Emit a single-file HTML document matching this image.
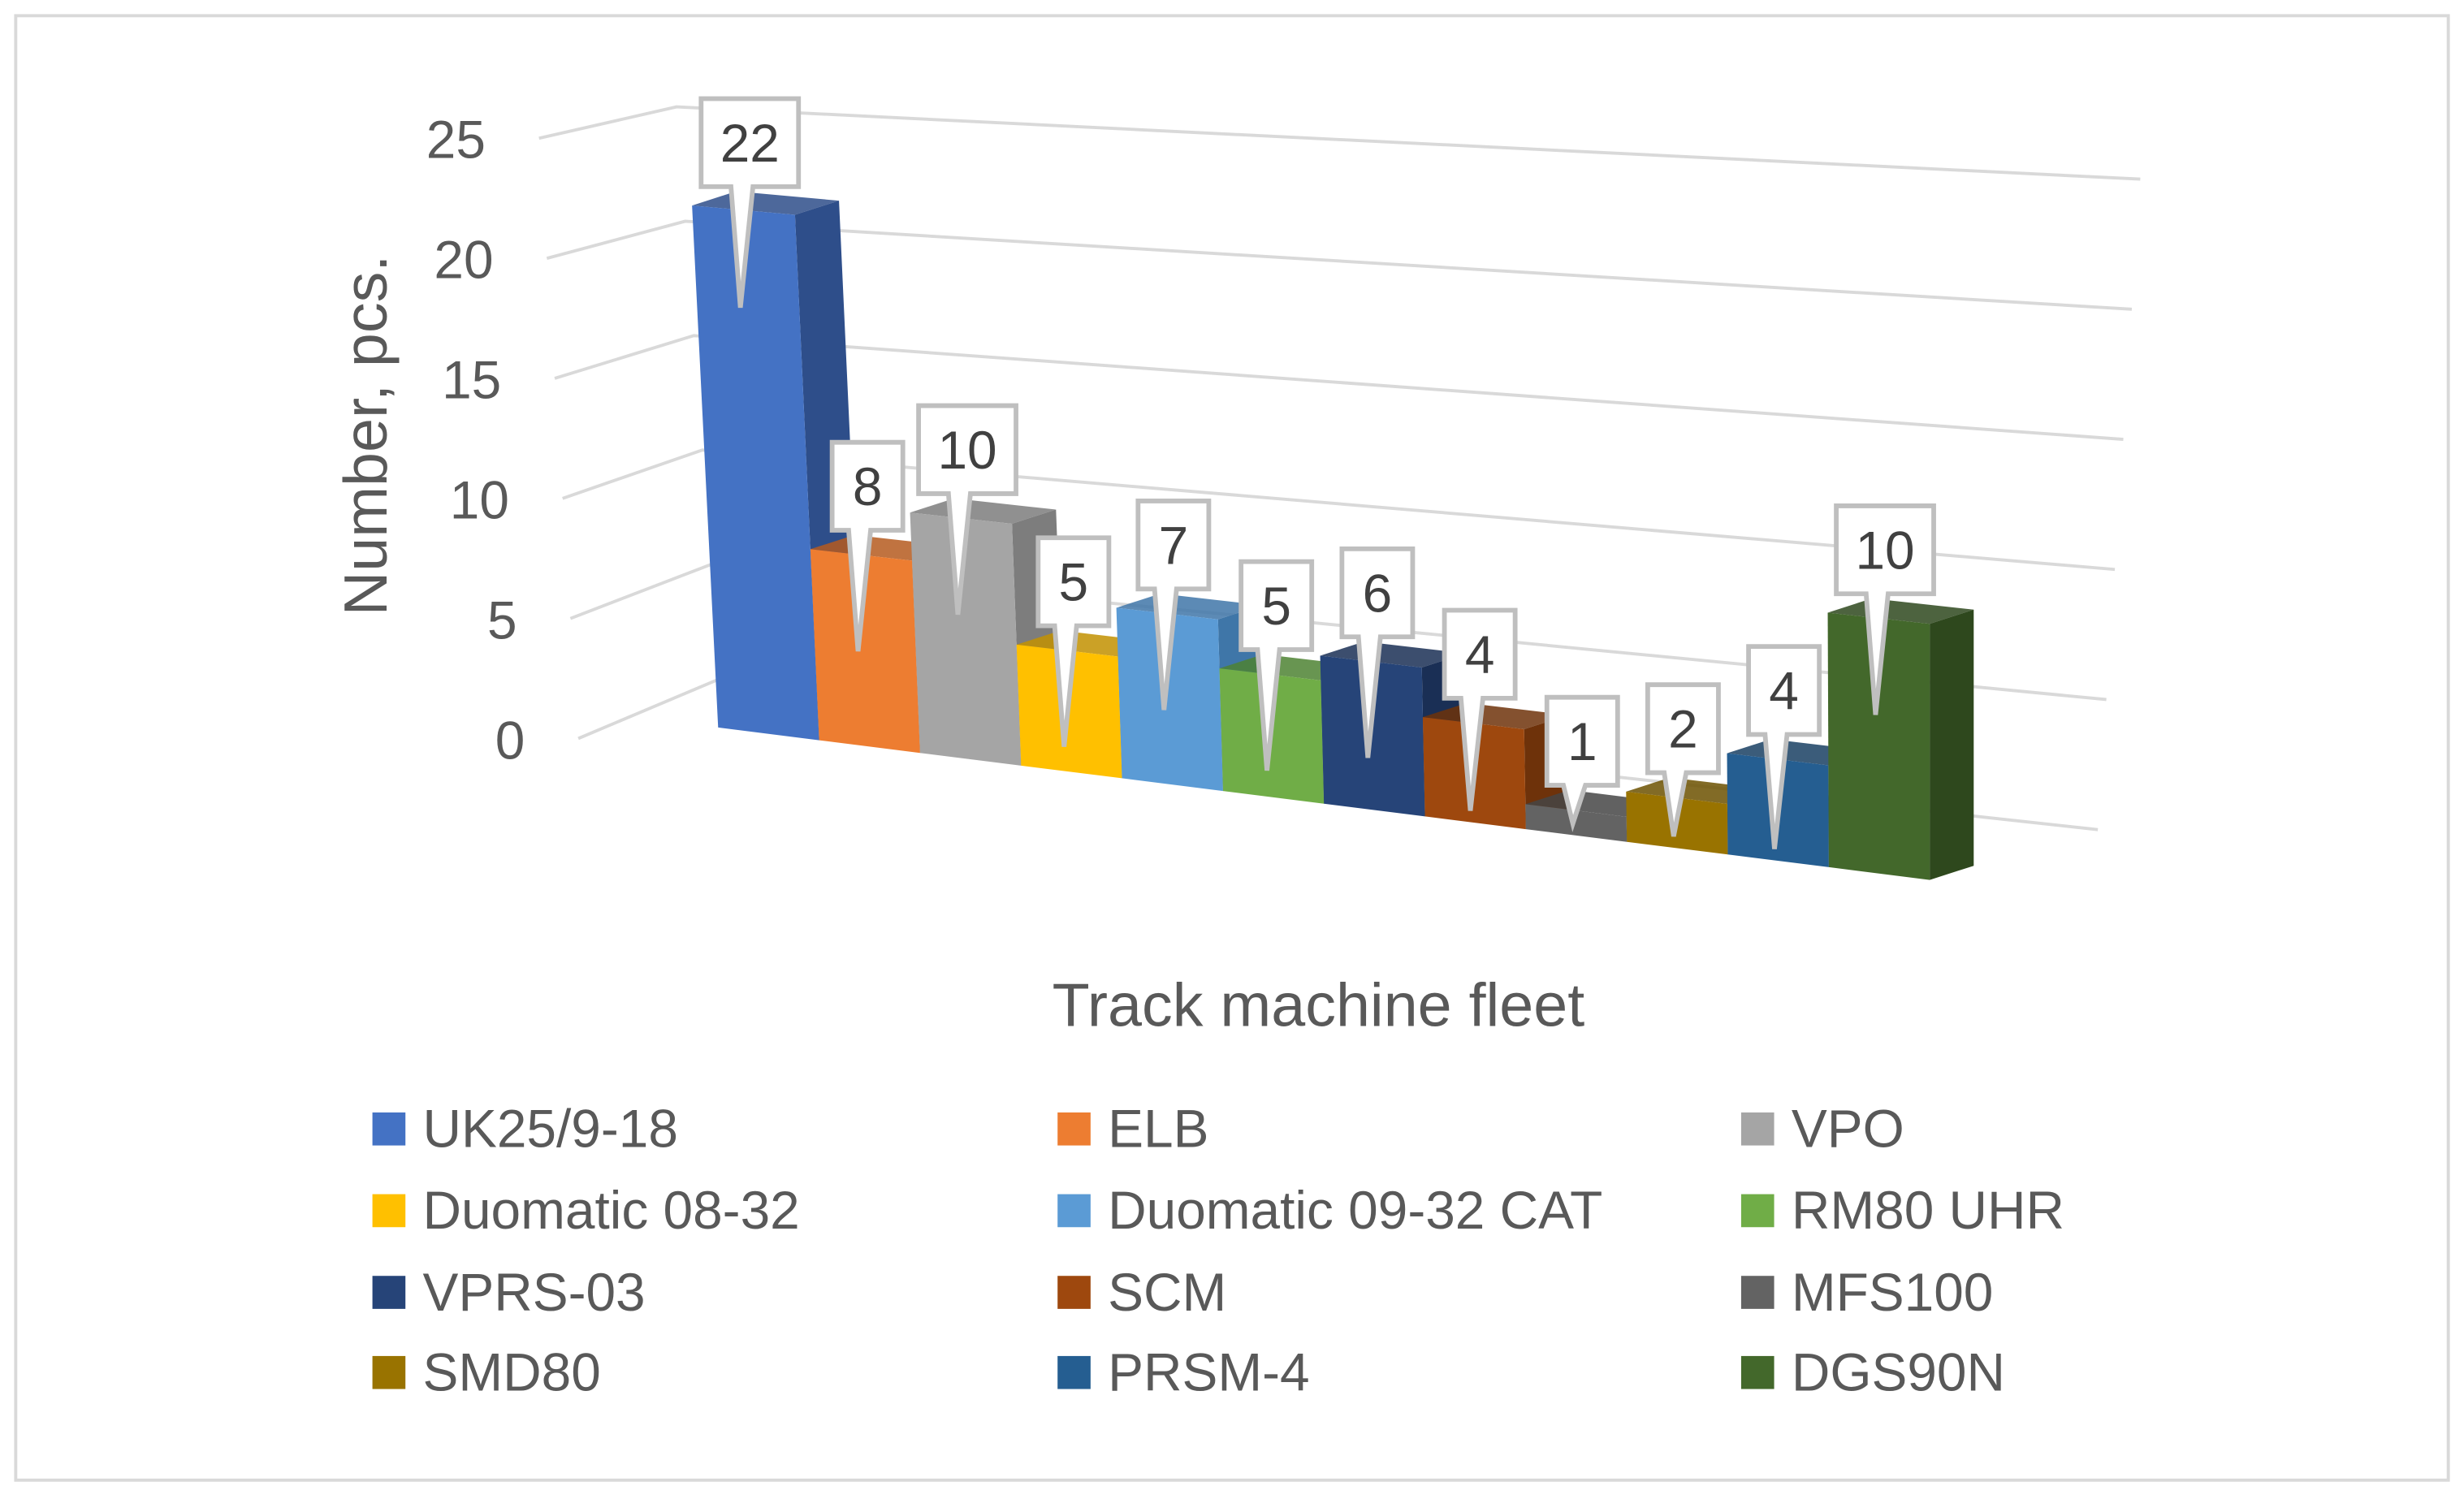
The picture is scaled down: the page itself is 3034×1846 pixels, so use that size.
<!DOCTYPE html>
<html><head><meta charset="utf-8"><style>
html,body{margin:0;padding:0;background:#fff;}
svg{display:block;font-family:"Liberation Sans",sans-serif;}
</style></head><body>
<svg id="chart" width="3034" height="1846" viewBox="0 0 1568 954" preserveAspectRatio="none" xmlns="http://www.w3.org/2000/svg">
<rect x="10" y="10" width="1548" height="932" fill="#fff" stroke="#d9d9d9" stroke-width="2"/>
<g id="grid"></g>
<g id="ticks"></g>
<g id="bars"></g>
<g id="labels"></g>
<text transform="translate(246,277) rotate(-90)" text-anchor="middle" font-size="39" fill="#595959">Number, pcs.</text>
<text x="839" y="653" text-anchor="middle" font-size="39" fill="#595959">Track machine fleet</text>
<g id="legend"></g>
</svg>
<script>
const categories = ["UK25/9-18","ELB","VPO","Duomatic 08-32","Duomatic 09-32 CAT","RM80 UHR","VPRS-03","SCM","MFS100","SMD80","PRSM-4","DGS90N"];
const values = [22,8,10,5,7,5,6,4,1,2,4,10];
const tickValues = [0,5,10,15,20,25];
const colors = ["#4472C4","#ED7D31","#A5A5A5","#FFC000","#5B9BD5","#70AD47","#264478","#9E480E","#636363","#997300","#255E91","#43682B"];
const sideColors = ["#2E4E8A","#B55A1E","#7D7D7D","#C29100","#3F76A8","#4E8232","#1A2F55","#6E320A","#454545","#6C5100","#193F63","#2E481D"];

const NS="http://www.w3.org/2000/svg";
function mk(tag, attrs, parent){const e=document.createElementNS(NS,tag);for(const k in attrs)e.setAttribute(k,attrs[k]);parent.appendChild(e);return e;}
const pts=a=>a.map(p=>p[0].toFixed(1)+","+p[1].toFixed(1)).join(" ");

const X0=457, X1=1228, Y0=463, Y1=560, N=categories.length, BW=(X1-X0)/N;
function baseY(x){return Y0+(x-X0)*(Y1-Y0)/(X1-X0);}
function unit(x){return 15.1+(x-X0)/(X1-X0)*1.2;}
function lean(x){return -0.05*(1-(x-X0)/(X1-X0));}
function topPt(x,v){const h=v*unit(x);return [x+lean(x)*h, baseY(x)-h];}
const D=[28,-9];

const grid=document.getElementById('grid'), ticks=document.getElementById('ticks');
tickValues.forEach((v,i)=>{
  const L=[368-v*1.0,470-v*15.28], C=[458-v*1.1,432-v*14.56], R=[1335+v*1.08,528-v*16.56];
  const g=mk('polyline',{points:pts([L,C,R]),fill:'none',stroke:'#d9d9d9','stroke-width':2},grid);
  
  
  const t=mk('text',{x:334-i*5,y:483-v*15.3,'text-anchor':'end','font-size':34,fill:'#595959'},ticks);
  t.textContent=v;
  
  
});

const bars=document.getElementById('bars'), labels=document.getElementById('labels');
values.forEach((v,i)=>{
  const xl=X0+i*BW, xr=xl+BW;
  const bl=[xl,baseY(xl)], br=[xr,baseY(xr)], tl=topPt(xl,v), tr=topPt(xr,v);
  const g=mk('g',{},bars);
  
  
  mk('polygon',{points:pts([br,tr,[tr[0]+D[0],tr[1]+D[1]],[br[0]+D[0],br[1]+D[1]]]),fill:sideColors[i]},g);
  mk('polygon',{points:pts([tl,tr,[tr[0]+D[0],tr[1]+D[1]],[tl[0]+D[0],tl[1]+D[1]]]),fill:sideColors[i],opacity:0.85},g);
  mk('polygon',{points:pts([bl,br,tr,tl]),fill:colors[i]},g);
  const cx=(tl[0]+tr[0])/2+4, ty=Math.min(tl[1],tr[1]);
  const w=String(v).length>1?62:45, h=56, bb=ty-12, bt=bb-h;
  const tip=[cx-6, Math.min(ty+65, baseY(cx)-8)];
  const lg=mk('g',{},labels);
  
  
  mk('path',{d:`M${cx-w/2},${bt} H${cx+w/2} V${bb} H${cx+2} L${tip[0]},${tip[1]} L${cx-12},${bb} H${cx-w/2} Z`,fill:'#fff',stroke:'#bfbfbf','stroke-width':3,'stroke-linejoin':'miter'},lg);
  const t=mk('text',{x:cx,y:bb-16,'text-anchor':'middle','font-size':34,fill:'#404040'},lg);
  t.textContent=v;
});

const leg=document.getElementById('legend');
const colX=[237,673,1108], rowY=[718,770,822,873];
categories.forEach((c,i)=>{
  const x=colX[i%3], y=rowY[Math.floor(i/3)];
  const g=mk('g',{},leg);
  
  
  mk('rect',{x:x,y:y-10,width:21,height:21,fill:colors[i]},g);
  const t=mk('text',{x:x+32,y:y+12,'font-size':34,fill:'#595959'},g);
  t.textContent=c;
});
</script>
</body></html>
